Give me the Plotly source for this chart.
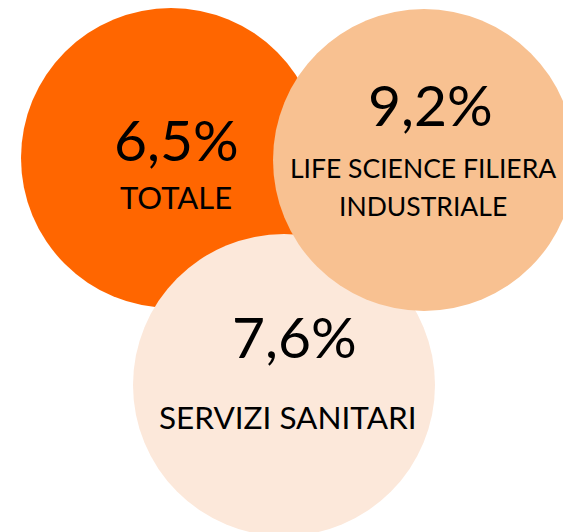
import plotly.graph_objects as go

# ---- data ----
categories = ["TOTALE", "LIFE SCIENCE FILIERA<br>INDUSTRIALE", "SERVIZI SANITARI"]
values = ["6,5%", "9,2%", "7,6%"]

# ---- layout (pixel space of the 563x532 canvas) ----
W, H = 563, 532
centers_x = [171, 424, 284]
centers_y = [158, 160, 385]
radii = [150, 151, 151]
colors = ["#FF6600", "#F8C191", "#FCE8DA"]
draw_order = [0, 2, 1]  # dark, pale, light on top

value_pos = [(176, 139), (430, 104), (294, 336)]
label_pos = [(176, 197), (423, 168), (288, 417)]
label_sizes = [31, 26.5, 31.5]
line_gap = 37.6

FONT = "Lato"

fig = go.Figure()
for i in draw_order:
    fig.add_shape(type="circle", xref="x", yref="y",
                  x0=centers_x[i] - radii[i], x1=centers_x[i] + radii[i],
                  y0=centers_y[i] - radii[i], y1=centers_y[i] + radii[i],
                  fillcolor=colors[i], line=dict(width=0), layer="below")

for i in range(3):
    fig.add_annotation(x=value_pos[i][0], y=value_pos[i][1], text=values[i],
                       showarrow=False, xanchor="center", yanchor="middle",
                       font=dict(family=FONT, size=57, color="#000000"))
    for k, line in enumerate(categories[i].split("<br>")):
        fig.add_annotation(x=label_pos[i][0], y=label_pos[i][1] + k * line_gap, text=line,
                           showarrow=False, xanchor="center", yanchor="middle",
                           font=dict(family=FONT, size=label_sizes[i], color="#000000"))

fig.update_xaxes(range=[0, W], visible=False, fixedrange=True)
fig.update_yaxes(range=[H, 0], visible=False, fixedrange=True)
fig.update_layout(width=W, height=H, margin=dict(l=0, r=0, t=0, b=0),
                  paper_bgcolor="white", plot_bgcolor="white", showlegend=False)

fig.write_html("out.html", config={"displayModeBar": False},
               post_script="document.body.style.margin='0';document.body.style.overflow='hidden';")
